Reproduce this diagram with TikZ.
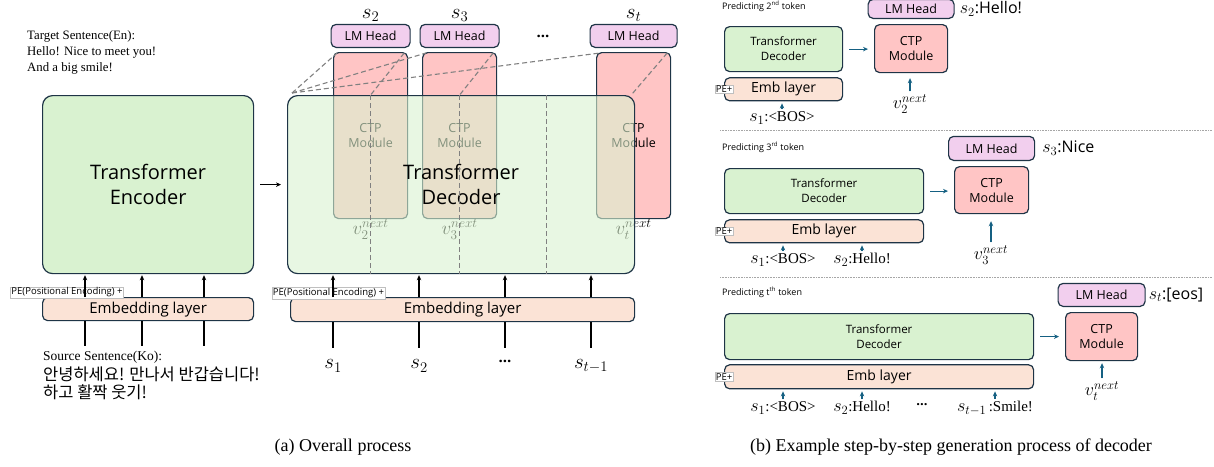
\RequirePackage{fix-cm}
\documentclass[tikz,border=0pt]{standalone}
\usepackage{fontspec}
\setmainfont{Liberation Serif}
\setsansfont{Open Sans}
\newfontfamily\kofont{Noto Sans CJK KR}
\usetikzlibrary{arrows.meta,positioning,calc}
\definecolor{edge}{HTML}{1E3446}
\definecolor{encg}{HTML}{D9F2D0}
\definecolor{embp}{HTML}{FBE3D6}
\definecolor{ctpr}{HTML}{FFC5C5}
\definecolor{lmv}{HTML}{F2CFEE}
\definecolor{arb}{HTML}{156082}
\newcommand{\fsz}[2]{\fontsize{#1}{#2}\selectfont}
\newcommand{\tdots}{{\sffamily\bfseries...}}
\newcommand{\bm}[1]{{\fsz{18}{18}$#1$}}
\tikzset{
  blk/.style={draw=edge,line width=1.2pt,rounded corners=5pt,align=center,inner sep=0pt},
  encbox/.style={blk,fill=encg},
  embbox/.style={blk,fill=embp},
  ctpbox/.style={blk,fill=ctpr},
  lmbox/.style={blk,fill=lmv},
  pelab/.style={draw=gray!50,fill=white,inner sep=1pt,font=\sffamily\fsz{9.5}{10}},
  ar/.style={-{Stealth[length=5pt,width=4.5pt]},line width=1.1pt},
  bluear/.style={ar,draw=arb,fill=arb},
  dsh/.style={draw=gray,line width=1.1pt,dash pattern=on 5pt off 3pt},
  sepline/.style={draw=gray!70,line width=0.8pt,dash pattern=on 0.8pt off 0.8pt},
  nw/.style={anchor=north west},
}

\begin{document}
\begin{tikzpicture}[x=1pt,y=-1pt]
\useasboundingbox (0,0) rectangle (1214,466);

% (a) overall process
\node[nw,align=left,inner sep=0pt,font=\fsz{12.8}{16}] (tgt) at (27,30) {Target Sentence(En):\\Hello! Nice to meet you!\\And a big smile!};
\node[encbox,nw,rounded corners=10pt,minimum width=211,minimum height=178,font=\sffamily\fsz{20}{25}] (enc) at (42,95) {Transformer\\Encoder};
\node[embbox,nw,minimum width=211,minimum height=23,font=\sffamily\fsz{15}{18}] (emb) at (42,297) {Embedding layer};
\node[pelab] (pe) at (67,292.5) {PE(Positional Encoding) +};
\node[nw,inner sep=0pt,font=\fsz{13.5}{16}] (src) at (43,351) {Source Sentence(Ko):};
\node[below=3pt of src.south west,anchor=north west,inner sep=0pt,align=left,font=\kofont\fsz{16.5}{18}] (ko) {안녕하세요! 만나서 반갑습니다!\\하고 활짝 웃기!};
\foreach \x in {85,142,204}{
  \draw[ar,shorten >=1pt] (emb.north -| \x,0) -- (enc.south -| \x,0);
  \draw[line width=1.1pt,shorten >=5pt] (emb.south -| \x,0) -- (src.north -| \x,0);
}

% CTP modules and heads (under the decoder)
\node[ctpbox,nw,minimum width=74,minimum height=166,font=\sffamily\fsz{12.5}{15}] (ctp1) at (333,52) {CTP\\Module};
\node[ctpbox,nw,minimum width=74,minimum height=166,font=\sffamily\fsz{12.5}{15}] (ctp2) at (422,52) {CTP\\Module};
\node[ctpbox,nw,minimum width=74,minimum height=166,font=\sffamily\fsz{12.5}{15}] (ctp3) at (596,52) {CTP\\Module};
\node[lmbox,above=4pt of ctp1,minimum width=79,minimum height=23,font=\sffamily\fsz{12.5}{15}] (lm1) {LM Head};
\node[lmbox,above=4pt of ctp2,minimum width=79,minimum height=23,font=\sffamily\fsz{12.5}{15}] (lm2) {LM Head};
\node[lmbox,above=4pt of ctp3,minimum width=87,minimum height=23,font=\sffamily\fsz{12.5}{15}] (lm3) {LM Head};
\node[above=2pt of lm1,inner sep=0pt,font=\fsz{21}{21}] (s2) {$s_2$};
\node[above=2pt of lm2,inner sep=0pt,font=\fsz{21}{21}] (s3) {$s_3$};
\node[above=2pt of lm3,inner sep=0pt,font=\fsz{21}{21}] (st) {$s_t$};
\node[font=\fsz{15}{18}] (hdots) at (543,36) {\tdots};
\node[below=0pt of ctp1,inner sep=0pt,font=\fsz{19}{19}] (v2) {$v_2^{next}$};
\node[below=0pt of ctp2,inner sep=0pt,font=\fsz{19}{19}] (v3) {$v_3^{next}$};
\node[below=0pt of ctp3,inner sep=0pt,font=\fsz{19}{19}] (vt) {$v_t^{next}$};

% decoder on top, see-through
\node[encbox,nw,rounded corners=10pt,fill opacity=.6,text opacity=1,minimum width=347,minimum height=178,font=\sffamily\fsz{20}{25}] (dec) at (287,95) {Transformer\\Decoder};
\draw[ar,shorten <=6pt,shorten >=6pt] (enc) -- (dec);

\coordinate (gap) at ($(ctp2.south)!.5!(ctp3.south)$);
\foreach \c in {ctp1,ctp2,gap} \draw[dsh] (dec.north -| \c) -- (dec.south -| \c);
\coordinate (dc) at ($(dec.north west)+(5,-2)$);
\foreach \c in {ctp1,ctp2,ctp3} \draw[dsh] (dc) -- ($(\c.north west)+(4,1)$);
\draw[dsh] ($(ctp1.north east)+(-4,1)$) -- (dec.north -| ctp1);
\draw[dsh] ($(ctp2.north east)+(-4,1)$) -- (dec.north -| ctp2);
\draw[dsh] ($(ctp3.north east)+(-4,1)$) -- ($(dec.north east)+(-4,0)$);

\node[embbox,nw,minimum width=344,minimum height=24,font=\sffamily\fsz{15}{18}] (demb) at (290,297) {Embedding layer};
\node[pelab] (dpe) at (328.5,293) {PE(Positional Encoding) +};
\node[font=\fsz{21}{21}] (in1) at (333,366) {$s_1$};
\node[font=\fsz{21}{21}] (in2) at (419,366) {$s_2$};
\node[font=\fsz{15}{18}] (in3) at (505,361) {\tdots};
\node[font=\fsz{21}{21}] (in4) at (591,366) {$s_{t-1}$};
\coordinate (inrow) at (0,348);
\foreach \i in {in1,in2,in3,in4}{
  \draw[ar,shorten >=1pt] (demb.north -| \i) -- (dec.south -| \i);
  \draw[line width=1.1pt] (demb.south -| \i) -- (inrow -| \i);
}
\node[font=\fsz{18}{20}] (capa) at (343,447) {(a) Overall process};

% (b) step by step, panel 1
\node[anchor=west,inner sep=0pt,font=\sffamily\fsz{9}{10}] (p1) at (722,6) {Predicting 2\textsuperscript{nd} token};
\node[encbox,nw,minimum width=118,minimum height=45,font=\sffamily\fsz{11.5}{15}] (bdec1) at (724,26) {Transformer\\Decoder};
\node[embbox,below=5pt of bdec1,minimum width=118,minimum height=23,font=\sffamily\fsz{14}{16}] (bemb1) {Emb layer};
\node[pelab] (bpe1) at (bemb1.west) {PE+};
\node[ctpbox,nw,minimum width=73,minimum height=48,font=\sffamily\fsz{12.5}{15}] (bctp1) at (874,24) {CTP\\Module};
\node[lmbox,above=5pt of bctp1,minimum width=86,minimum height=19,font=\sffamily\fsz{12.5}{15}] (blm1) {LM Head};
\node[right=5pt of blm1,inner sep=0pt,font=\sffamily\fsz{16}{18}] (bs2) {\bm{s_2}:Hello!};
\node[inner sep=0pt,font=\fsz{18}{18}] (bv2) at (910,104) {$v_2^{next}$};
\node[inner sep=0pt,font=\fsz{15}{16}] (b1i1) at (782,118) {\bm{s_1}:<BOS>};
\draw[bluear,shorten <=6pt,shorten >=6pt] (bdec1) -- (bdec1 -| bctp1.west);
\draw[bluear,shorten <=3pt,shorten >=5pt] (bv2.north) -- (bv2.north |- bctp1.south);
\draw[bluear,shorten <=2pt,shorten >=2pt] (b1i1.north) -- (b1i1.north |- bemb1.south);
\draw[sepline] (720,130) -- (1212,130);

% panel 2
\node[anchor=west,inner sep=0pt,font=\sffamily\fsz{9}{10}] (p2) at (722,147) {Predicting 3\textsuperscript{rd} token};
\node[encbox,nw,minimum width=199,minimum height=45,font=\sffamily\fsz{11.5}{15}] (bdec2) at (724,168) {Transformer\\Decoder};
\node[embbox,below=5pt of bdec2,minimum width=199,minimum height=23,font=\sffamily\fsz{14}{16}] (bemb2) {Emb layer};
\node[pelab] (bpe2) at (bemb2.west) {PE+};
\node[ctpbox,nw,minimum width=74,minimum height=47,font=\sffamily\fsz{12.5}{15}] (bctp2) at (954,166) {CTP\\Module};
\node[lmbox,above=5pt of bctp2,minimum width=86,minimum height=24,font=\sffamily\fsz{12.5}{15}] (blm2) {LM Head};
\node[right=7pt of blm2,inner sep=0pt,font=\sffamily\fsz{16}{18}] (bs3) {\bm{s_3}:Nice};
\node[inner sep=0pt,font=\fsz{18}{18}] (bv3) at (991,255) {$v_3^{next}$};
\node[inner sep=0pt,font=\fsz{15}{16}] (b2i1) at (783,260) {\bm{s_1}:<BOS>};
\node[inner sep=0pt,font=\fsz{15}{16}] (b2i2) at (862,260) {\bm{s_2}:Hello!};
\draw[bluear,shorten <=6pt,shorten >=6pt] (bdec2) -- (bdec2 -| bctp2.west);
\draw[bluear,shorten <=3pt,shorten >=7pt] (bv3.north) -- (bv3.north |- bctp2.south);
\foreach \i in {b2i1,b2i2} \draw[bluear,shorten <=2pt,shorten >=2pt] (\i.north) -- (\i.north |- bemb2.south);
\draw[sepline] (720,277) -- (1212,277);

% panel 3
\node[anchor=west,inner sep=0pt,font=\sffamily\fsz{9}{10}] (p3) at (722,292) {Predicting t\textsuperscript{th} token};
\node[encbox,nw,minimum width=309,minimum height=46,font=\sffamily\fsz{11.5}{15}] (bdec3) at (724,313) {Transformer\\Decoder};
\node[embbox,below=4pt of bdec3,minimum width=309,minimum height=24,font=\sffamily\fsz{14}{16}] (bemb3) {Emb layer};
\node[pelab] (bpe3) at (bemb3.west) {PE+};
\node[ctpbox,nw,minimum width=72,minimum height=48,font=\sffamily\fsz{12.5}{15}] (bctp3) at (1065,312) {CTP\\Module};
\node[lmbox,above=5pt of bctp3,minimum width=87,minimum height=23,font=\sffamily\fsz{12.5}{15}] (blm3) {LM Head};
\node[right=3pt of blm3,inner sep=0pt,font=\sffamily\fsz{16}{18}] (bst) {\bm{s_t}:[eos]};
\node[inner sep=0pt,font=\fsz{18}{18}] (bvt) at (1102,391) {$v_t^{next}$};
\node[inner sep=0pt,font=\fsz{15}{16}] (b3i1) at (783,408) {\bm{s_1}:<BOS>};
\node[inner sep=0pt,font=\fsz{15}{16}] (b3i2) at (862,408) {\bm{s_2}:Hello!};
\node[inner sep=0pt,font=\fsz{13}{16}] (b3i3) at (922,405) {\tdots};
\node[inner sep=0pt,font=\fsz{15}{16}] (b3i4) at (995,408) {\bm{s_{t-1}}\,:Smile!};
\draw[bluear,shorten <=6pt,shorten >=6pt] (bdec3) -- (bdec3 -| bctp3.west);
\draw[bluear,shorten <=3pt,shorten >=2pt] (bvt.north) -- (bvt.north |- bctp3.south);
\foreach \i in {b3i1,b3i2,b3i4} \draw[bluear,shorten <=2pt,shorten >=2pt] (\i.north) -- (\i.north |- bemb3.south);

\node[font=\fsz{18}{20}] (capb) at (951,447) {(b) Example step-by-step generation process of decoder};
\end{tikzpicture}
\end{document}
